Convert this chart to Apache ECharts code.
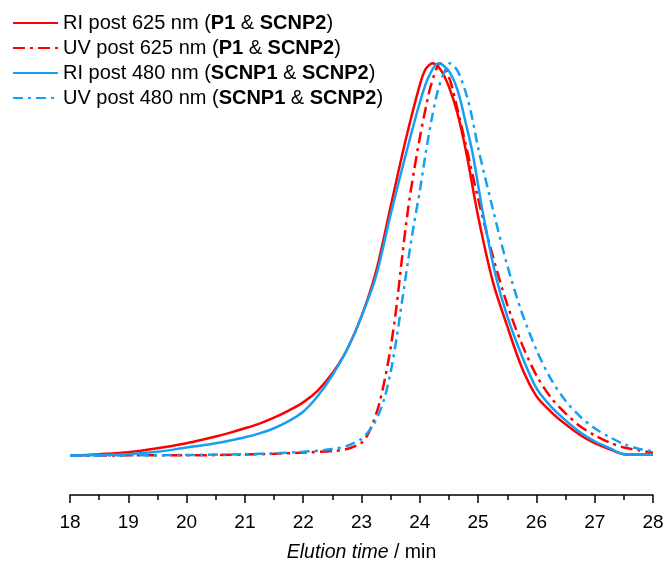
<!DOCTYPE html>
<html>
<head>
<meta charset="utf-8">
<style>
  html, body { margin: 0; padding: 0; background: #fff; }
  #chart { width: 666px; height: 563px; }
</style>
<script src="https://cdn.jsdelivr.net/npm/echarts@6/dist/echarts.min.js"></script>
</head>
<body>
<div id="chart"></div>
<script>
// elution time (min) vs normalised detector response
const riPost625 = [
  [18.0, 0], [18.5, 0.004], [19.0, 0.009], [19.5, 0.019], [20.0, 0.032],
  [20.25, 0.04], [20.5, 0.049], [20.75, 0.059], [21.0, 0.07], [21.25, 0.082],
  [21.5, 0.097], [21.75, 0.115], [22.0, 0.136], [22.25, 0.166], [22.5, 0.21],
  [22.75, 0.27], [23.0, 0.355], [23.25, 0.47], [23.5, 0.635], [23.75, 0.8],
  [24.0, 0.945], [24.1, 0.985], [24.22, 1.0], [24.35, 0.985], [24.5, 0.94],
  [24.65, 0.87], [24.8, 0.77], [25.0, 0.61], [25.25, 0.445], [25.5, 0.33],
  [25.75, 0.225], [26.0, 0.152], [26.25, 0.112], [26.5, 0.08], [26.75, 0.053],
  [27.0, 0.032], [27.25, 0.017], [27.5, 0.004], [27.75, 0.003], [28.0, 0.003]
];
const uvPost625 = [
  [18.0, 0], [19.0, 0.001], [20.0, 0.001], [21.0, 0.003], [21.5, 0.005],
  [22.0, 0.008], [22.5, 0.012], [22.75, 0.017], [23.0, 0.033], [23.1, 0.052],
  [23.2, 0.085], [23.3, 0.13], [23.4, 0.195], [23.5, 0.275], [23.6, 0.38],
  [23.7, 0.51], [23.8, 0.63], [23.9, 0.725], [24.0, 0.81], [24.1, 0.885],
  [24.2, 0.948], [24.35, 1.0], [24.5, 0.965], [24.65, 0.88], [24.8, 0.785],
  [25.0, 0.655], [25.25, 0.51], [25.5, 0.385], [25.75, 0.285], [26.0, 0.205],
  [26.25, 0.148], [26.5, 0.108], [26.75, 0.075], [27.0, 0.052], [27.25, 0.034],
  [27.5, 0.021], [27.75, 0.014], [28.0, 0.008]
];
const riPost480 = [
  [18.0, 0], [18.5, 0.002], [19.0, 0.004], [19.5, 0.01], [20.0, 0.021],
  [20.25, 0.026], [20.5, 0.032], [20.75, 0.039], [21.0, 0.047], [21.25, 0.057],
  [21.5, 0.07], [21.75, 0.088], [22.0, 0.112], [22.25, 0.152], [22.5, 0.205],
  [22.75, 0.27], [23.0, 0.355], [23.25, 0.458], [23.5, 0.615], [23.75, 0.762],
  [24.0, 0.9], [24.15, 0.965], [24.32, 1.0], [24.5, 0.98], [24.65, 0.93],
  [24.8, 0.84], [24.9, 0.775], [25.1, 0.605], [25.3, 0.46], [25.5, 0.355],
  [25.75, 0.255], [26.0, 0.172], [26.25, 0.125], [26.5, 0.09], [26.75, 0.06],
  [27.0, 0.037], [27.25, 0.02], [27.5, 0.004], [27.75, 0.003], [28.0, 0.003]
];
const uvPost480 = [
  [18.0, 0], [19.0, 0.001], [20.0, 0.002], [21.0, 0.004], [21.5, 0.006],
  [22.0, 0.01], [22.5, 0.017], [22.75, 0.025], [23.0, 0.043], [23.1, 0.058],
  [23.2, 0.078], [23.3, 0.108], [23.4, 0.15], [23.5, 0.213], [23.6, 0.298],
  [23.7, 0.398], [23.8, 0.498], [23.9, 0.59], [24.0, 0.675], [24.1, 0.77],
  [24.2, 0.855], [24.3, 0.925], [24.4, 0.97], [24.52, 1.0], [24.65, 0.98],
  [24.8, 0.92], [24.9, 0.86], [25.0, 0.785], [25.25, 0.63], [25.5, 0.485],
  [25.75, 0.365], [26.0, 0.27], [26.25, 0.195], [26.5, 0.14], [26.75, 0.1],
  [27.0, 0.07], [27.25, 0.048], [27.5, 0.03], [27.75, 0.018], [28.0, 0.011]
];
const seriesNames = [
  'RI post 625 nm ({b|P1} & {b|SCNP2})',
  'UV post 625 nm ({b|P1} & {b|SCNP2})',
  'RI post 480 nm ({b|SCNP1} & {b|SCNP2})',
  'UV post 480 nm ({b|SCNP1} & {b|SCNP2})'
];

const RED = '#ff0000';
const BLUE = '#14a0f5';
const FONT = '"Liberation Sans", Arial, sans-serif';

function mkLine(name, data, color, dash) {
  return {
    name: name,
    type: 'line',
    data: data,
    showSymbol: false,
    symbol: 'none',
    smooth: 0.3,
    color: color,
    lineStyle: { color: color, width: 2.5, type: dash || 'solid' },
    animation: false
  };
}

let myChart = echarts.init(document.getElementById('chart'));
let option = {
  backgroundColor: '#fff',
  textStyle: { fontFamily: FONT },
  grid: { left: 70, right: 13, top: 24, bottom: 68, containLabel: false, outerBoundsMode: 'none' },
  legend: {
    orient: 'vertical',
    left: 7,
    top: 8,
    itemWidth: 45,
    itemHeight: 14,
    itemGap: 5,
    itemStyle: { opacity: 0 },
    textStyle: {
      fontFamily: FONT, fontSize: 20, color: '#000',
      rich: { b: { fontFamily: FONT, fontSize: 20, fontWeight: 'bold', color: '#000' } }
    },
    data: seriesNames
  },
  xAxis: {
    type: 'value',
    min: 18,
    max: 28,
    interval: 1,
    name: '{i|Elution time} / min',
    nameLocation: 'middle',
    nameGap: 48,
    nameTextStyle: {
      fontFamily: FONT, fontSize: 19.5, color: '#000',
      rich: { i: { fontFamily: FONT, fontSize: 19.5, fontStyle: 'italic', color: '#000' } }
    },
    axisLine: { show: true, onZero: false, lineStyle: { color: '#000', width: 1.5 } },
    axisTick: { show: true, inside: false, length: 8, lineStyle: { color: '#000', width: 1.5 } },
    minorTick: { show: true, splitNumber: 2, length: 5, lineStyle: { color: '#000', width: 1.5 } },
    axisLabel: { fontFamily: FONT, fontSize: 19, color: '#000', margin: 18 },
    splitLine: { show: false }
  },
  yAxis: {
    type: 'value',
    min: -0.1,
    max: 1.1,
    show: false
  },
  series: [
    mkLine(seriesNames[0], riPost625, RED),
    mkLine(seriesNames[1], uvPost625, RED, [12, 5, 3, 5]),
    mkLine(seriesNames[2], riPost480, BLUE),
    mkLine(seriesNames[3], uvPost480, BLUE, [10, 5, 3, 5])
  ]
};
myChart.setOption(option);
window.addEventListener('resize', function () {
  myChart.resize();
});
</script>
</body>
</html>
